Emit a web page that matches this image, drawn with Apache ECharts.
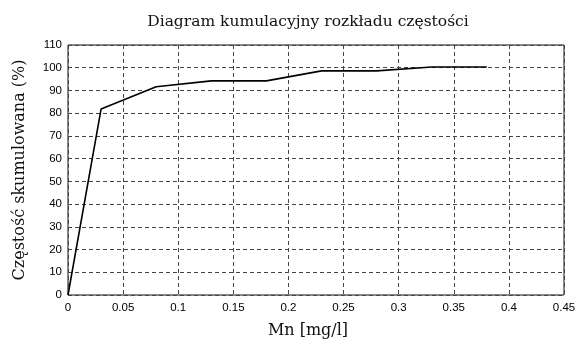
<!DOCTYPE html>
<html>
<head>
<meta charset="utf-8">
<script src="https://cdn.jsdelivr.net/npm/echarts@6/dist/echarts.min.js"></script>
<style>
  html, body { margin: 0; padding: 0; background: #fff; }
  #chart { width: 580px; height: 348px; }
</style>
</head>
<body>
<div id="chart"></div>
<script>
// Mn concentration [mg/l] and cumulative frequency [%]
var mnValues = [0, 0.03, 0.08, 0.13, 0.18, 0.23, 0.28, 0.33, 0.38];
var cumulative = [0, 81.8, 91.6, 94.2, 94.2, 98.6, 98.6, 100.3, 100.3];

var xTicks = { min: 0, max: 0.45, step: 0.05 };
var yTicks = { min: 0, max: 110, step: 10 };

var points = mnValues.map(function (x, i) { return [x, cumulative[i]]; });

var myChart = echarts.init(document.getElementById('chart'));
var gridLine = {
  show: true,
  lineStyle: { type: [4, 3], color: '#444', width: 1 }
};
var serif = 'DejaVu Serif';
myChart.setOption({
  animation: false,
  title: {
    text: 'Diagram kumulacyjny rozkładu częstości',
    left: 303,
    textAlign: 'center',
    top: 9,
    textStyle: {
      fontFamily: serif,
      fontWeight: 'normal',
      fontSize: 15.5,
      color: '#111'
    }
  },
  grid: {
    left: 68, right: 16, top: 45, bottom: 53,
    show: true,
    borderColor: '#111',
    borderWidth: 1
  },
  xAxis: {
    type: 'value',
    min: xTicks.min,
    max: xTicks.max,
    interval: xTicks.step,
    name: 'Mn [mg/l]',
    nameLocation: 'middle',
    nameGap: 28,
    nameTextStyle: { fontFamily: serif, fontSize: 16, color: '#111', padding: [0, 0, 0, -16] },
    axisLine: { show: false },
    axisTick: { show: false },
    axisLabel: {
      fontFamily: 'Liberation Sans',
      fontSize: 11.5,
      color: '#000',
      margin: 7,
      formatter: function (v) { return String(+v.toFixed(2)); }
    },
    splitLine: gridLine
  },
  yAxis: {
    type: 'value',
    min: yTicks.min,
    max: yTicks.max,
    interval: yTicks.step,
    name: 'Częstość skumulowana (%)',
    nameLocation: 'middle',
    nameGap: 40,
    nameTextStyle: { fontFamily: serif, fontSize: 16, color: '#111' },
    axisLine: { show: false },
    axisTick: { show: false },
    axisLabel: { fontFamily: 'Liberation Sans', fontSize: 11.5, color: '#000', margin: 6 },
    splitLine: gridLine
  },
  series: [{
    type: 'line',
    data: points,
    showSymbol: false,
    lineStyle: { color: '#000', width: 1.6 }
  }]
});
</script>
</body>
</html>
